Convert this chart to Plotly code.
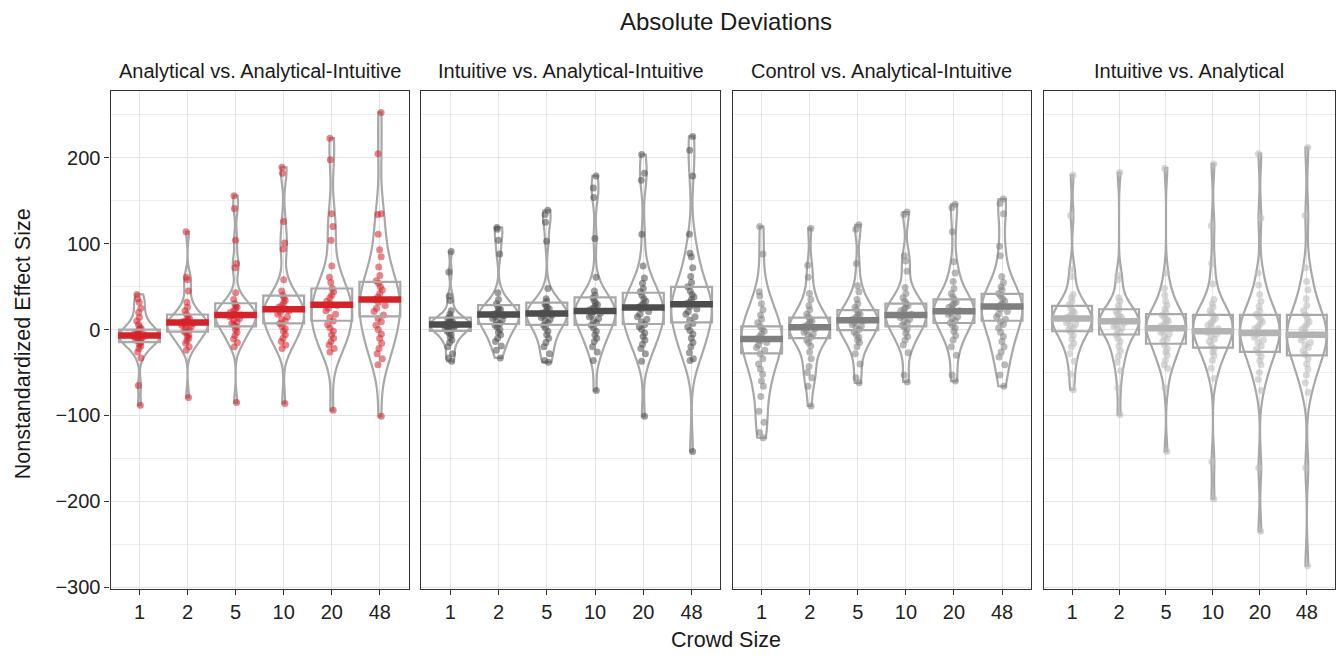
import plotly.graph_objects as go

crowd_sizes = ["1", "2", "5", "10", "20", "48"]
panel_titles = ["Analytical vs. Analytical-Intuitive",
                "Intuitive vs. Analytical-Intuitive",
                "Control vs. Analytical-Intuitive",
                "Intuitive vs. Analytical"]

# ---- Panel 1: Analytical vs. Analytical-Intuitive ----
p1_g1 = [41, 36, 32, 25, 20, 14, 10, 6, 3, 1, 0, -2, -3, -5, -6, -7, -8, -9, -10, -11, -12, -13, -15, -17, -19, -22, -26, -33, -65, -88]
p1_g2 = [114, 61, 58, 45, 32, 26, 22, 18, 15, 13, 11, 10, 9, 8, 7, 6, 5, 3, 1, 0, -2, -4, -6, -8, -10, -13, -16, -20, -24, -79]
p1_g5 = [156, 141, 104, 77, 72, 43, 35, 30, 28, 26, 24, 22, 20, 18, 17, 16, 15, 13, 11, 9, 7, 5, 3, 0, -3, -7, -11, -15, -20, -85]
p1_g10 = [189, 182, 126, 101, 94, 58, 45, 40, 37, 34, 31, 28, 26, 24, 22, 20, 18, 15, 12, 10, 7, 4, 1, -2, -6, -10, -14, -18, -22, -86]
p1_g20 = [223, 198, 135, 120, 104, 74, 61, 55, 48, 44, 40, 37, 33, 30, 28, 25, 22, 18, 14, 10, 6, 2, -2, -6, -10, -14, -18, -22, -26, -94]
p1_g48 = [253, 205, 135, 134, 111, 93, 85, 73, 63, 57, 54, 50, 46, 42, 38, 35, 32, 28, 25, 21, 17, 13, 9, 5, 0, -5, -10, -16, -22, -28, -34, -41, -101]
p1_q1 = [-14.6, -2.3, 3.8, 7.3, 10.3, 15.3]
p1_med = [-6.9, 8.4, 17.0, 23.8, 29.0, 35.2]
p1_q3 = [0.0, 17.6, 30.7, 39.5, 47.9, 55.6]

# ---- Panel 2: Intuitive vs. Analytical-Intuitive ----
p2_g1 = [91, 67, 39, 34, 22, 18, 15, 13, 11, 10, 9, 8, 7, 6, 5, 5, 4, 3, 2, 1, 0, -2, -4, -6, -9, -12, -15, -20, -28, -33, -37]
p2_g2 = [119, 117, 104, 88, 43, 35, 30, 27, 25, 23, 21, 19, 18, 17, 16, 15, 13, 11, 9, 7, 5, 3, 0, -3, -6, -10, -14, -19, -24, -33]
p2_g5 = [139, 134, 125, 103, 48, 36, 33, 30, 28, 26, 24, 22, 20, 19, 18, 17, 16, 14, 12, 10, 8, 5, 2, -2, -6, -10, -15, -20, -28, -36, -38]
p2_g10 = [179, 165, 154, 106, 61, 45, 40, 37, 34, 31, 29, 27, 25, 23, 21, 19, 17, 15, 13, 10, 8, 5, 2, -2, -6, -10, -14, -20, -26, -36, -71]
p2_g20 = [204, 182, 174, 111, 74, 60, 54, 48, 44, 40, 36, 33, 30, 28, 26, 24, 21, 18, 15, 12, 9, 6, 3, 0, -4, -8, -12, -17, -22, -28, -37, -101]
p2_g48 = [225, 209, 179, 111, 89, 85, 72, 62, 55, 50, 45, 41, 38, 35, 32, 30, 27, 24, 21, 18, 15, 11, 7, 3, -1, -5, -10, -15, -20, -27, -34, -36, -142]
p2_q1 = [-1.5, 6.5, 5.4, 5.4, 6.5, 8.4]
p2_med = [6.0, 17.6, 18.7, 21.8, 25.7, 29.5]
p2_q3 = [14.0, 28.4, 31.4, 37.5, 42.9, 49.8]

# ---- Panel 3: Control vs. Analytical-Intuitive ----
p3_g1 = [120, 88, 44, 39, 30, 23, 17, 12, 8, 4, 1, -2, -5, -8, -11, -13, -15, -18, -21, -24, -28, -34, -40, -46, -52, -60, -66, -78, -95, -108, -120, -126]
p3_g2 = [118, 75, 61, 42, 35, 28, 23, 18, 15, 12, 10, 8, 6, 4, 3, 1, -1, -3, -5, -7, -9, -12, -15, -19, -26, -34, -43, -50, -56, -66, -89]
p3_g5 = [122, 117, 77, 51, 44, 35, 30, 26, 23, 20, 18, 16, 14, 12, 11, 10, 8, 6, 4, 2, 0, -3, -6, -9, -12, -15, -20, -28, -40, -56, -62]
p3_g10 = [137, 134, 86, 80, 68, 49, 42, 37, 33, 30, 28, 26, 24, 22, 20, 18, 16, 14, 12, 10, 8, 5, 3, 0, -4, -8, -12, -18, -27, -53, -61]
p3_g20 = [146, 142, 114, 79, 66, 56, 48, 42, 38, 35, 32, 30, 28, 26, 24, 22, 20, 18, 15, 13, 10, 8, 5, 2, -2, -7, -12, -20, -30, -53, -60]
p3_g48 = [152, 147, 135, 97, 86, 62, 55, 50, 46, 42, 39, 36, 33, 30, 28, 26, 24, 21, 18, 15, 12, 9, 6, 2, -3, -8, -14, -20, -26, -32, -41, -53, -66]
p3_q1 = [-27.6, -9.9, -0.7, 3.8, 7.7, 10.3]
p3_med = [-11.0, 2.7, 11.0, 16.9, 21.5, 26.9]
p3_q3 = [3.8, 14.0, 22.6, 30.3, 35.2, 41.7]

# ---- Panel 4: Intuitive vs. Analytical ----
p4_g1 = [180, 133, 70, 62, 41, 37, 33, 29, 25, 22, 20, 18, 16, 14, 13, 12, 10, 8, 6, 4, 2, 0, -3, -7, -11, -16, -20, -28, -37, -52, -70]
p4_g2 = [183, 63, 58, 37, 33, 28, 24, 21, 18, 16, 14, 12, 11, 10, 9, 8, 6, 4, 2, 0, -3, -6, -10, -14, -19, -25, -31, -38, -48, -68, -99]
p4_g5 = [188, 66, 48, 40, 33, 28, 24, 20, 17, 14, 12, 10, 8, 6, 4, 2, 1, -1, -3, -5, -8, -11, -14, -18, -22, -26, -30, -36, -41, -45, -68, -142]
p4_g10 = [193, 121, 77, 53, 35, 30, 26, 22, 19, 16, 13, 10, 8, 5, 3, 1, -1, -3, -5, -8, -11, -14, -18, -22, -26, -30, -36, -45, -57, -154, -197]
p4_g20 = [205, 130, 66, 52, 41, 33, 27, 22, 18, 15, 12, 9, 6, 3, 1, -2, -4, -6, -9, -12, -15, -19, -23, -27, -31, -36, -41, -50, -58, -71, -161, -235]
p4_g48 = [212, 133, 72, 56, 46, 36, 28, 22, 17, 13, 9, 6, 3, 0, -3, -6, -9, -12, -15, -18, -21, -25, -29, -34, -40, -46, -53, -62, -73, -161, -275]
p4_q1 = [-1.9, -5.7, -16.5, -21.0, -26.0, -30.0]
p4_med = [13.0, 9.6, 1.5, -1.9, -4.0, -6.1]
p4_q3 = [27.6, 23.7, 18.0, 17.2, 17.2, 17.2]

panels = [
    ([p1_g1, p1_g2, p1_g5, p1_g10, p1_g20, p1_g48], p1_q1, p1_med, p1_q3),
    ([p2_g1, p2_g2, p2_g5, p2_g10, p2_g20, p2_g48], p2_q1, p2_med, p2_q3),
    ([p3_g1, p3_g2, p3_g5, p3_g10, p3_g20, p3_g48], p3_q1, p3_med, p3_q3),
    ([p4_g1, p4_g2, p4_g5, p4_g10, p4_g20, p4_g48], p4_q1, p4_med, p4_q3),
]

bar_colors = ["#D42229", "#4D4D4D", "#7F7F7F", "#B3B3B3"]
pt_colors = ["rgba(212,34,41,0.55)", "rgba(77,77,77,0.55)",
             "rgba(127,127,127,0.55)", "rgba(190,190,190,0.6)"]
outline = "#A8A8A8"
FONT = "Liberation Sans, Arial, sans-serif"

# the page body has an 8px margin on each side: keep the whole page at 1344x664
OFF = 8
W, H = 1344 - 2 * OFF, 664 - 2 * OFF
x_ref = [(110.7, 409.0), (421.7, 721.0), (733.3, 1031.7), (1044.7, 1343.0)]
x_px = [(a - OFF, min(b - OFF, W)) for a, b in x_ref]
y_dom = [1 - (597.0 - OFF) / H, 1 - (91.7 - OFF) / H]

fig = go.Figure()
positions = list(range(len(crowd_sizes)))

for i, (groups, q1, med, q3) in enumerate(panels):
    xa = "x" if i == 0 else f"x{i+1}"
    ya = "y" if i == 0 else f"y{i+1}"
    # boxes (no whiskers)
    fig.add_trace(go.Box(
        x=positions, q1=q1, median=med, q3=q3, lowerfence=q1, upperfence=q3,
        width=0.85, whiskerwidth=0, boxpoints=False,
        line=dict(color=outline, width=2.2), fillcolor="rgba(0,0,0,0)",
        xaxis=xa, yaxis=ya, showlegend=False, hoverinfo="skip"))
    # violins (each scaled to the same maximum width) + jittered points
    for p, g in zip(positions, groups):
        fig.add_trace(go.Violin(
            x=[p] * len(g), y=g, scalegroup=f"p{i}g{p}", scalemode="width",
            spanmode="hard", width=0.84, line=dict(color=outline, width=2.2),
            fillcolor="rgba(0,0,0,0)", points="all", pointpos=0, jitter=0.3,
            marker=dict(color=pt_colors[i], size=7, line=dict(width=0)),
            box=dict(visible=False), meanline=dict(visible=False),
            xaxis=xa, yaxis=ya, showlegend=False, hoverinfo="skip"))
    # thick median bars
    fig.add_trace(go.Scatter(
        x=positions, y=med, mode="markers",
        marker=dict(symbol="line-ew", size=30.5,
                    line=dict(color=bar_colors[i], width=6.5)),
        xaxis=xa, yaxis=ya, showlegend=False, hoverinfo="skip"))

layout = dict(
    width=W, height=H, margin=dict(l=0, r=0, t=0, b=0),
    paper_bgcolor="white", plot_bgcolor="white",
    font=dict(family=FONT, size=20, color="#1A1A1A"),
    violinmode="overlay", boxmode="overlay",
)
for i in range(4):
    xk = "xaxis" if i == 0 else f"xaxis{i+1}"
    yk = "yaxis" if i == 0 else f"yaxis{i+1}"
    a, b = x_px[i]
    layout[xk] = dict(
        domain=[a / W, b / W], range=[-0.6, 5.6], anchor="y" if i == 0 else f"y{i+1}",
        tickmode="array", tickvals=positions, ticktext=crowd_sizes,
        ticks="outside", ticklen=5, tickcolor="#333333", tickwidth=1.2,
        showgrid=True, gridcolor="#E4E4E4", gridwidth=1.2, zeroline=False,
        showline=True, linecolor="#333333", linewidth=1.3, mirror=True,
        tickfont=dict(size=20, color="#222222"), fixedrange=True)
    layout[yk] = dict(
        domain=y_dom, range=[-302, 278.5], anchor="x" if i == 0 else f"x{i+1}",
        tickmode="array", tickvals=[-300, -200, -100, 0, 100, 200],
        showticklabels=(i == 0), ticks="outside" if i == 0 else "",
        ticklen=5, tickcolor="#333333", tickwidth=1.2,
        showgrid=True, gridcolor="#E4E4E4", gridwidth=1.2, zeroline=False,
        minor=dict(tickmode="array", tickvals=[-250, -150, -50, 50, 150, 250],
                   showgrid=True, gridcolor="#EEEEEE", gridwidth=1.2, ticklen=0),
        showline=True, linecolor="#333333", linewidth=1.3, mirror=True,
        tickfont=dict(size=20, color="#222222"), fixedrange=True)

cx = (727 - OFF) / W
annotations = [
    dict(text="Absolute Deviations", x=cx, y=1 - (22 - OFF) / H, xref="paper", yref="paper",
         showarrow=False, xanchor="center", yanchor="middle", font=dict(size=24, color="#1A1A1A")),
    dict(text="Crowd Size", x=cx, y=1 - (649 - OFF) / H, xref="paper", yref="paper",
         showarrow=False, xanchor="center", yanchor="middle", font=dict(size=21.5, color="#1A1A1A")),
    dict(text="Nonstandardized Effect Size", x=(23 - OFF) / W, y=1 - (348 - OFF) / H,
         xref="paper", yref="paper", showarrow=False, xanchor="center", yanchor="middle",
         textangle=-90, font=dict(size=21.5, color="#1A1A1A")),
]
for i, t in enumerate(panel_titles):
    a, b = x_px[i]
    annotations.append(dict(text=t, x=(a + b) / 2 / W, y=1 - (72 - OFF) / H,
                            xref="paper", yref="paper", showarrow=False,
                            xanchor="center", yanchor="middle",
                            font=dict(size=20, color="#1A1A1A")))
layout["annotations"] = annotations

fig.update_layout(**layout)
fig.write_html("out.html", config={"displayModeBar": False})
